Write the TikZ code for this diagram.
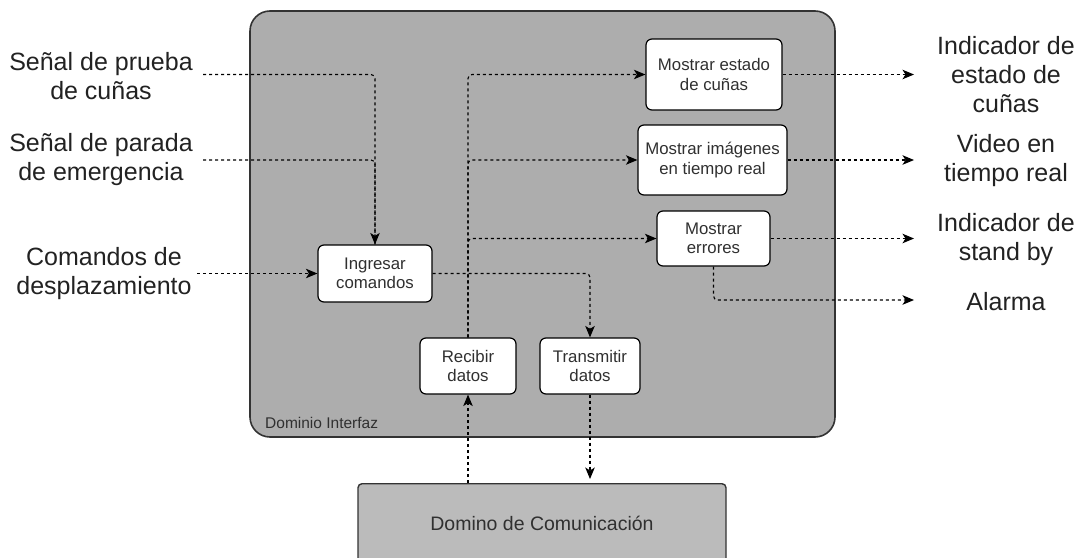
\documentclass[tikz,border=0pt]{standalone}
\usepackage{fontspec}
\setmainfont{Liberation Sans}
\usetikzlibrary{arrows.meta}
\definecolor{framefill}{HTML}{ADADAD}
\definecolor{framedraw}{HTML}{333333}
\definecolor{commfill}{HTML}{BBBBBB}
\definecolor{boxtext}{HTML}{303030}
\definecolor{labeltext}{HTML}{222222}
\tikzset{
  flowline/.style={draw=black, line width=1.1pt, dash pattern=on 3pt off 3pt, rounded corners=4pt},
  flow/.style={flowline, -{Stealth[length=11.5pt,width=9.5pt,inset=3pt]}},
  taskbox/.style={draw=black, line width=1.2pt, fill=white, rounded corners=6pt, align=center,
    inner sep=0pt, text=boxtext, font=\fontsize{16.8}{19.5}\selectfont},
  sidelabel/.style={align=center, inner sep=0pt, text=labeltext, font=\fontsize{25}{29}\selectfont},
}
\begin{document}
\begin{tikzpicture}[x=1pt, y=-1pt]
\useasboundingbox (0,0) rectangle (1081,557);
\clip (0,0) rectangle (1081,557);

% interface domain frame
\node (frame) [draw=framedraw, line width=1.6pt, fill=framefill, rounded corners=20pt,
  minimum width=585pt, minimum height=426pt, inner sep=0pt] at (542.5,224) {};
\node (frametitle) [anchor=west, inner sep=0pt, text=boxtext, font=\fontsize{15.5}{18}\selectfont]
  at (265,423) {Dominio Interfaz};

% communication domain (runs off the lower edge)
\node (comunic) [draw=framedraw, line width=1.4pt, fill=commfill, rounded corners=4pt,
  minimum width=368pt, minimum height=100pt, inner sep=0pt, anchor=north] at (542,483) {};
\node (comunictext) [text=boxtext, font=\fontsize{19.5}{23}\selectfont, inner sep=0pt]
  at (542,523) {Domino de Comunicación};

% task boxes
\node (estado)     [taskbox, minimum width=136pt, minimum height=71pt] at (714,74.5) {Mostrar estado\\de cuñas};
\node (imagenes)   [taskbox, minimum width=149pt, minimum height=70pt] at (712.5,160) {Mostrar imágenes\\en tiempo real};
\node (errores)    [taskbox, minimum width=113pt, minimum height=55pt] at (713.5,238.5) {Mostrar\\errores};
\node (ingresar)   [taskbox, minimum width=114pt, minimum height=57pt] at (375,273.5) {Ingresar\\comandos};
\node (recibir)    [taskbox, minimum width=96pt,  minimum height=56pt] at (468,366) {Recibir\\datos};
\node (transmitir) [taskbox, minimum width=100pt, minimum height=56pt] at (590,366) {Transmitir\\datos};

% inputs on the left
\node (sp) [sidelabel] at (101,76)  {Señal de prueba\\de cuñas};
\node (pe) [sidelabel] at (101,160) {Señal de parada\\de emergencia};
\node (cd) [sidelabel] at (104,274) {Comandos de\\desplazamiento};
\coordinate (sp-out) at (203,74.5);
\coordinate (pe-out) at (203,160);
\coordinate (cd-out) at (197,273.5);

% outputs on the right
\node (ie) [sidelabel] at (1006,75)  {Indicador de\\estado de\\cuñas};
\node (vt) [sidelabel] at (1006,161) {Video en\\tiempo real};
\node (sb) [sidelabel] at (1006,240) {Indicador de\\stand by};
\node (al) [sidelabel] at (1006,302) {Alarma};
\coordinate (ie-in) at (914,74.5);
\coordinate (vt-in) at (914,160);
\coordinate (sb-in) at (914,238.5);
\coordinate (al-in) at (914,300);

% input flows
\draw[flow] (sp-out) -| (ingresar.north);
\draw[flowline] (pe-out) -| (ingresar.north);
\draw[flow] (cd-out) -- (ingresar.west);
\draw[flow] (ingresar.east) -| (transmitir.north);

% received data distributed to the displays
\draw[flow] (recibir.north) |- (estado.west);
\draw[flow] (recibir.north) |- (imagenes.west);
\draw[flow] (recibir.north) |- (errores.west);

% output flows
\draw[flow] (estado.east) -- (ie-in);
\draw[flow] (imagenes.east) -- (vt-in);
\draw[flow] (errores.east) -- (sb-in);
\draw[flow] (errores.south) |- (al-in);

% link with the communication domain
\draw[flow] (recibir.south |- comunic.north) -- (recibir.south);
\draw[flow, shorten >=4pt] (transmitir.south) -- (transmitir.south |- comunic.north);
\end{tikzpicture}
\end{document}
